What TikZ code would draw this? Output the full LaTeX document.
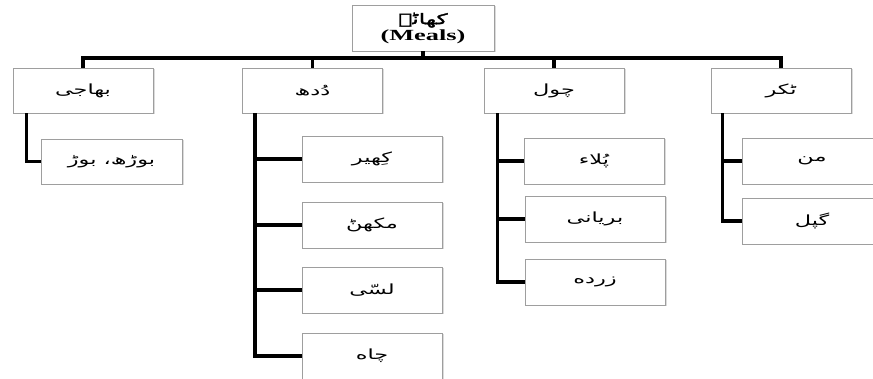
\documentclass[tikz,border=0pt]{standalone}
\usepackage{fontspec}
\usetikzlibrary{shadows}
\TeXXeTstate=1
\newfontfamily\urdu[Script=Arabic,FakeStretch=1.6]{DejaVu Sans}
\newfontfamily\urdubold[Script=Arabic,FakeStretch=1.6,FakeBold=2]{DejaVu Sans}
\newfontfamily\latinwide[FakeStretch=1.7]{Liberation Serif}
\newcommand{\ur}[1]{{\urdu\beginR #1\endR}}
\newcommand{\urb}[1]{{\urdubold\beginR #1\endR}}

\begin{document}
\begin{tikzpicture}[x=1pt,y=-1pt,
  box/.style={draw=black!38, line width=0.9pt, fill=white,
    minimum width=140pt, minimum height=45pt, inner sep=0pt,
    font=\fontsize{14}{16}\selectfont,
    drop shadow={opacity=0.28, shadow xshift=1.5pt, shadow yshift=-1.5pt}},
  link/.style={line width=3.2pt, line join=miter, draw=black}]

  \useasboundingbox[fill=white] (0,0) rectangle (873,379);

  % root
  \node[box, minimum width=142pt, minimum height=46pt, align=center] (root) at (423,28)
    {{\fontsize{14.5}{16}\selectfont\urb{کھانؕے}}\\[0pt]{\latinwide\bfseries\fontsize{15.5}{17}\selectfont (Meals)}};

  % categories
  \node[box] (bhaji) at (83,90.5)  {\ur{بھاجی}};
  \node[box] (dudh)  at (312.5,90.5) {\ur{دُدھ}};
  \node[box] (chol)  at (554,90.5) {\ur{چول}};
  \node[box] (tukar) at (781,90.5) {\ur{ٹکر}};

  % items
  \node[box, minimum width=141pt] (b1) at (111.5,161.5) {\ur{بوڑھ، بوڑ}};

  \node[box, minimum height=46pt] (d1) at (372,159) {\ur{کِھیر}};
  \node[box, minimum height=46pt] (d2) at (372,225) {\ur{مکھنؕ}};
  \node[box, minimum height=46pt] (d3) at (372,290) {\ur{لسّی}};
  \node[box, minimum height=46pt] (d4) at (372,356) {\ur{چاه}};

  \node[box, minimum height=46pt] (c1) at (594,161) {\ur{پُلاء}};
  \node[box, minimum height=46pt] (c2) at (595,219) {\ur{بریانی}};
  \node[box, minimum height=46pt] (c3) at (595,282) {\ur{زرده}};

  \node[box, minimum height=46pt] (t1) at (812,161) {\ur{من}};
  \node[box, minimum height=46pt] (t2) at (812,221) {\ur{گپل}};

  % root to categories
  \coordinate (bar) at (0,58);
  \foreach \n in {bhaji,dudh,chol,tukar}
    \draw[link] (root.south) -- (root.south |- bar) -| (\n.north);

  % categories to items
  \foreach \n in {b1}
    \draw[link] ([xshift=14pt]bhaji.south west) |- (\n.west);
  \foreach \n in {d1,d2,d3,d4}
    \draw[link] ([xshift=13pt]dudh.south west) |- (\n.west);
  \foreach \n in {c1,c2,c3}
    \draw[link] ([xshift=14pt]chol.south west) |- (\n.west);
  \foreach \n in {t1,t2}
    \draw[link] ([xshift=12pt]tukar.south west) |- (\n.west);
\end{tikzpicture}
\end{document}
